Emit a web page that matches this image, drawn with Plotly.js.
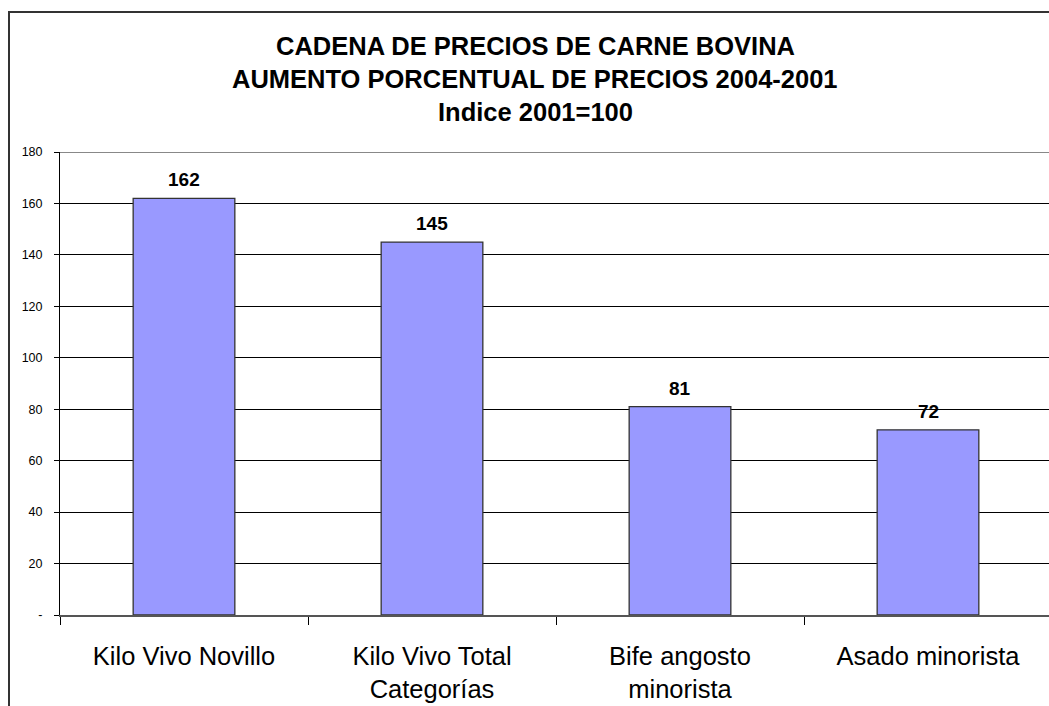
<!DOCTYPE html>
<html>
<head>
<meta charset="utf-8">
<script src="https://cdn.plot.ly/plotly-3.0.1.min.js"></script>
<style>
html,body{margin:0;padding:0;background:#fff;overflow:hidden;width:1049px;height:706px;}
#frame{position:absolute;left:8px;top:11px;width:1100px;height:800px;border:2px solid #333;box-sizing:border-box;}
#chart{position:absolute;left:0;top:0;width:1060px;height:706px;}
</style>
</head>
<body>
<div id="chart"></div>
<div id="frame"></div>
<script>
var categories = ["Kilo Vivo Novillo", "Kilo Vivo Total<br>Categorías", "Bife angosto<br>minorista", "Asado minorista"];
var values = [162, 145, 81, 72];
var valueLabels = ["162", "145", "81", "72"];
var yTickVals = [0, 20, 40, 60, 80, 100, 120, 140, 160, 180];
var yTickText = ["-", "20", "40", "60", "80", "100", "120", "140", "160", "180"];
var titleLines = ["CADENA DE PRECIOS DE CARNE BOVINA", "AUMENTO PORCENTUAL DE PRECIOS 2004-2001", "Indice 2001=100"];

var font = "Liberation Sans, Arial, sans-serif";

var trace = {
  type: "bar",
  x: categories,
  y: values,
  marker: {color: "#9999FF", line: {color: "#333333", width: 1.3}},
  width: 0.41,
  hoverinfo: "x+y"
};

var annotations = titleLines.map(function(t, i) {
  return {
    text: "<b>" + t + "</b>",
    xref: "paper", yref: "paper",
    x: (535 - 60) / (1052 - 60), xanchor: "center",
    y: (615 - (46 + 33 * i)) / (615 - 152), yanchor: "middle",
    showarrow: false,
    font: {family: font, size: 25.5, color: "#000"}
  };
});
categories.forEach(function(c, i) {
  annotations.push({
    text: "<b>" + valueLabels[i] + "</b>",
    xref: "x", yref: "y", x: c, y: values[i],
    yanchor: "bottom", yshift: 6,
    showarrow: false,
    font: {family: font, size: 19, color: "#000"}
  });
});

var layout = {
  width: 1060, height: 706,
  margin: {l: 60, r: 8, t: 152, b: 91},
  paper_bgcolor: "rgba(0,0,0,0)",
  plot_bgcolor: "rgba(0,0,0,0)",
  showlegend: false,
  annotations: annotations,
  xaxis: {
    type: "category",
    tickson: "boundaries",
    ticks: "outside", ticklen: 8, tickcolor: "#000", tickwidth: 1,
    showline: true, linecolor: "#555", linewidth: 2,
    showgrid: false,
    ticklabelstandoff: 17,
    tickfont: {family: font, size: 25.5, color: "#000"},
    fixedrange: true
  },
  yaxis: {
    range: [0, 180],
    tickvals: yTickVals, ticktext: yTickText,
    ticks: "outside", ticklen: 5, tickcolor: "#000",
    showline: true, linecolor: "#000", linewidth: 1,
    showgrid: true, gridcolor: "#000", gridwidth: 1,
    zeroline: false,
    ticklabelstandoff: 9,
    tickfont: {family: font, size: 12.5, color: "#000"},
    fixedrange: true
  },
  shapes: [{type: "line", xref: "paper", yref: "y", x0: 0, x1: 1, y0: 180, y1: 180, line: {color: "#888", width: 2}}]
};

Plotly.newPlot("chart", [trace], layout, {displayModeBar: false, staticPlot: true});
</script>
</body>
</html>
